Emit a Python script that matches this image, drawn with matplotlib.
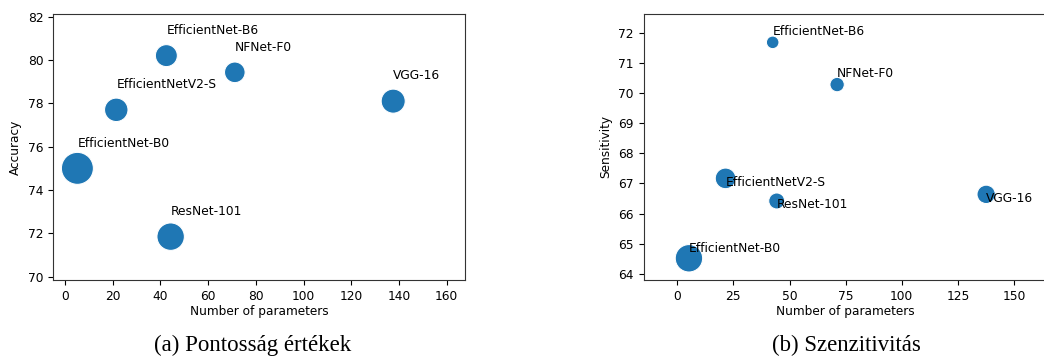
import numpy as np
import matplotlib
matplotlib.use('Agg')
import matplotlib.pyplot as plt

# models (same order in both panels)
models = ['EfficientNet-B0', 'EfficientNetV2-S', 'EfficientNet-B6',
          'NFNet-F0', 'VGG-16', 'ResNet-101']
params = [5.2, 21.5, 42.5, 71.2, 137.6, 44.3]          # millions

# (a) accuracy
accuracy = [75.0, 77.7, 80.2, 79.43, 78.1, 71.85]
acc_bubble = [530, 285, 250, 220, 300, 390]

# (b) sensitivity
sensitivity = [64.52, 67.17, 71.68, 70.28, 66.64, 66.42]
sens_bubble = [390, 220, 82, 107, 175, 133]

# label offsets in y (style only)
acc_dy = [1.0, 1.0, 1.0, 1.0, 1.0, 1.0]
sens_dy = [0.22, -0.25, 0.24, 0.26, -0.26, -0.24]

W, H = 1044, 356
fig = plt.figure(figsize=(W / 100, H / 100), dpi=100)

ax1 = fig.add_axes([53.3 / W, 76 / H, 411.7 / W, 266 / H])
ax2 = fig.add_axes([643.6 / W, 76 / H, 404.1 / W, 266 / H])

blue = '#1f77b4'
fs = 8.8

ax1.scatter(params, accuracy, s=acc_bubble, c=blue, edgecolors='white', linewidths=0.75, zorder=2)
for m, x, y, dy in zip(models, params, accuracy, acc_dy):
    ax1.text(x, y + dy, m, fontsize=fs)
ax1.set_xlim(-4.9, 167.7)
ax1.set_ylim(69.85, 82.12)
ax1.set_xticks(np.arange(0, 161, 20))
ax1.set_yticks(np.arange(70, 83, 2))
ax1.set_xlabel('Number of parameters', fontsize=8.7, labelpad=2)
ax1.set_ylabel('Accuracy', fontsize=8.7)

ax2.scatter(params, sensitivity, s=sens_bubble, c=blue, edgecolors='white', linewidths=0.75, zorder=2)
for m, x, y, dy in zip(models, params, sensitivity, sens_dy):
    ax2.text(x, y + dy, m, fontsize=fs)
ax2.set_xlim(-15, 165)
ax2.set_ylim(63.8, 72.62)
ax2.set_xticks(np.arange(0, 151, 25))
ax2.set_yticks(np.arange(64, 73, 1))
ax2.set_xlabel('Number of parameters', fontsize=8.7, labelpad=2)
ax2.set_ylabel('Sensitivity', fontsize=8.7)

for ax in (ax1, ax2):
    ax.tick_params(labelsize=8.8)
    for sp in ax.spines.values():
        sp.set_color('#333333')

cap_font = ['Liberation Serif']
fig.text(253 / W, 5 / H, '(a) Pontosság értékek', ha='center', va='baseline',
         fontsize=16.5, family=cap_font)
fig.text(846 / W, 5 / H, '(b) Szenzitivitás', ha='center', va='baseline',
         fontsize=16.5, family=cap_font)

fig.savefig('out.png', dpi=100)
